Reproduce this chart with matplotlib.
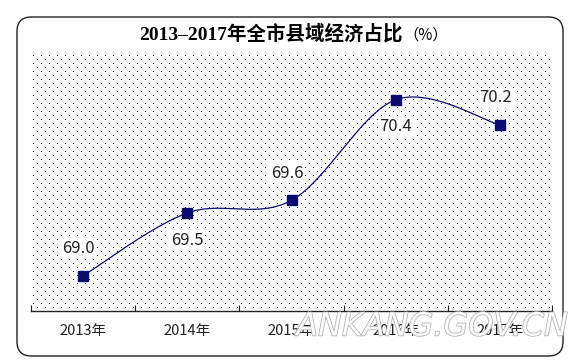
import matplotlib
matplotlib.use("Agg")
import matplotlib.pyplot as plt
import matplotlib.patheffects as pe
from matplotlib.patches import FancyBboxPatch
import numpy as np

# chart data
years = ["2013年", "2014年", "2015年", "2016年", "2017年"]
shares = [69.0, 69.5, 69.6, 70.4, 70.2]
labels = ["69.0", "69.5", "69.6", "70.4", "70.2"]
label_side = [1, -1, 1, -1, 1]  # 1 = above the point, -1 = below

navy = "#0a0a6e"
cjk = ["Noto Sans CJK SC", "DejaVu Sans"]

W, H = 578, 363
fig = plt.figure(figsize=(W / 100, H / 100), dpi=100)
fig.patch.set_facecolor("white")

# rounded outer frame
frame = FancyBboxPatch((17 / W, 7 / H), 546 / W, 339 / H,
                       boxstyle="round,pad=0,rounding_size=0.025",
                       transform=fig.transFigure, fill=False,
                       edgecolor="#222222", lw=1.0, mutation_aspect=W / H)
fig.patches.append(frame)

fig.text(403 / W, 1 - 34 / H, "2013–2017年全市县域经济占比", ha="right", va="center",
         fontsize=14, fontweight="bold",
         family=["Liberation Serif", "Noto Sans CJK SC"])
fig.text(403 / W, 1 - 35 / H, "（%）", ha="left", va="center",
         fontsize=11, family=cjk)

axw, axh = 521, 259
ax = fig.add_axes([31 / W, 1 - 311 / H, axw / W, axh / H])
ax.set_facecolor("white")

# dotted background texture: staggered one-pixel dots, drawn as a pixel image
tex = np.zeros((axh, axw, 4))
for k, row in enumerate(range(3, axh - 2, 4)):
    tex[row, 2 + (k % 2) * 4:axw - 1:8] = [0.05, 0.05, 0.05, 1.0]
ax.imshow(tex, extent=(0, 1, 0, 1), transform=ax.transAxes, aspect="auto",
          interpolation="nearest", zorder=0)
ax.set_xlim(-0.5, len(years) - 0.5)
ax.set_ylim(68.72, 70.78)

for s in ["left", "right", "top"]:
    ax.spines[s].set_visible(False)
ax.spines["bottom"].set_color("#222222")
ax.spines["bottom"].set_linewidth(1.0)
ax.spines["bottom"].set_zorder(5)

ax.set_yticks([])
ax.set_xticks(np.arange(-0.5, len(years), 1.0))
ax.set_xticklabels([])
ax.tick_params(axis="x", which="major", direction="in", length=4, color="#222222")
ax.set_xticks(range(len(years)), minor=True)
ax.set_xticklabels(years, minor=True, family=cjk, fontsize=10.5, color="#222222")
ax.tick_params(axis="x", which="minor", length=0, pad=9)

# smooth line (office style smoothed line), computed in display space
xs = np.arange(len(years), dtype=float)
pts = ax.transData.transform(np.column_stack([xs, shares]))
curve = []
for i in range(len(pts) - 1):
    p0 = pts[i - 1] if i > 0 else pts[i]
    p1, p2 = pts[i], pts[i + 1]
    p3 = pts[i + 2] if i + 2 < len(pts) else pts[i + 1]
    c1 = p1 + (p2 - p0) / 6
    c2 = p2 - (p3 - p1) / 6
    for t in np.linspace(0, 1, 40):
        b = ((1 - t) ** 3) * p1 + 3 * ((1 - t) ** 2) * t * c1 + 3 * (1 - t) * t ** 2 * c2 + t ** 3 * p2
        curve.append(b)
curve = ax.transData.inverted().transform(np.array(curve))
ax.plot(curve[:, 0], curve[:, 1], color=navy, lw=0.9, zorder=3)
ax.plot(xs, shares, ls="none", marker="s", ms=7, color=navy, zorder=4)

for x, y, lab, side in zip(xs, shares, labels, label_side):
    ax.annotate(lab, (x, y), xytext=(-3 if side > 0 else 0, 19.5 * side),
                textcoords="offset points", ha="center", va="center",
                fontsize=12, family=cjk, color="#222222", zorder=6,
                bbox=dict(boxstyle="square,pad=0.1", fc="white", ec="none"))

# site watermark
fig.text(0.748, 1 - 327 / H, "ANKANG.GOV.CN", ha="center", va="center", fontsize=23,
         style="italic", color="white", family="DejaVu Sans", alpha=0.9,
         path_effects=[pe.withStroke(linewidth=1.0, foreground="#a0a0a0")], zorder=10)

fig.savefig("out.png", dpi=100)
